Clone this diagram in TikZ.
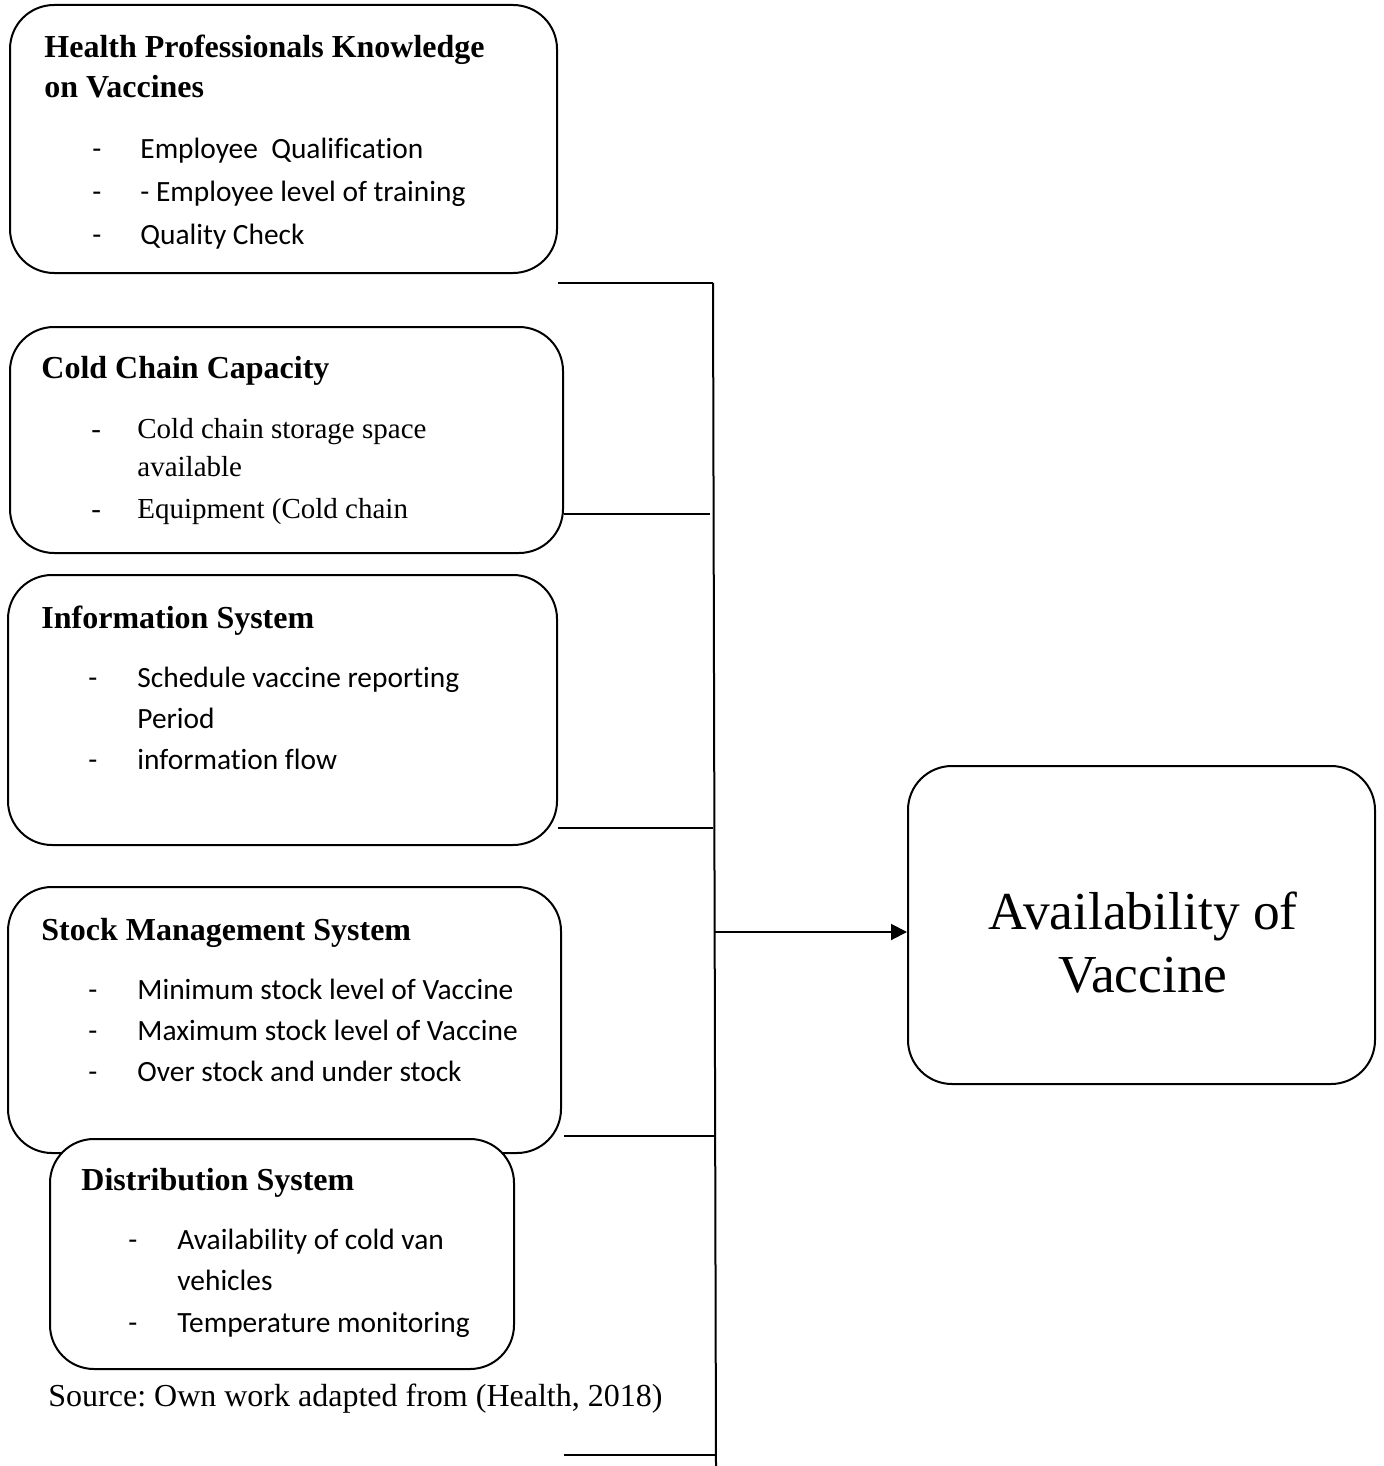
\documentclass[tikz,border=0pt]{standalone}
\usepackage{fontspec}
\setmainfont{Liberation Serif}
\newfontfamily\calfont[Ligatures={NoCommon,NoRare}]{Carlito}
\usetikzlibrary{arrows.meta}
\frenchspacing

\tikzset{
  box/.style={draw, line width=1pt, rounded corners=22pt, fill=white, inner sep=0pt},
  head/.style={font=\fontsize{16}{20}\selectfont\bfseries, anchor=base west, inner sep=0pt},
  item/.style={font=\calfont\fontsize{14.7}{18}\selectfont, anchor=base west, inner sep=0pt},
  titem/.style={font=\fontsize{14.5}{18}\selectfont, anchor=base west, inner sep=0pt},
  wire/.style={line width=1pt}
}

\begin{document}
\begin{tikzpicture}[x=0.5pt, y=-0.5pt]
\useasboundingbox (0,0) rectangle (1384,1466);

% factor boxes
\node[box, minimum width=273.5pt, minimum height=134pt] (hpk) at (283.5,139) {};
\node[head] (hpk-h1) at (44,58) {Health Professionals Knowledge};
\node[head] (hpk-h2) at (44,98) {on Vaccines};
\node[item] (hpk-d1) at (92,159) {-};
\node[item] (hpk-t1) at (140,159) {Employee\ \ Qualification};
\node[item] (hpk-d2) at (92,202) {-};
\node[item] (hpk-t2) at (140,202) {- Employee level of training};
\node[item] (hpk-d3) at (92,245) {-};
\node[item] (hpk-t3) at (140,245) {Quality Check};

\node[box, minimum width=276.5pt, minimum height=113pt] (ccc) at (286.5,440) {};
\node[head] (ccc-h) at (41,378) {Cold Chain Capacity};
\node[titem] (ccc-d1) at (91,438) {-};
\node[titem] (ccc-t1) at (137,438) {Cold chain storage space};
\node[titem] (ccc-t1b) at (137,476) {available};
\node[titem] (ccc-d2) at (91,518) {-};
\node[titem] (ccc-t2) at (137,518) {Equipment (Cold chain};

\node[box, minimum width=274.5pt, minimum height=135pt] (info) at (282.5,710) {};
\node[head] (info-h) at (41,628) {Information System};
\node[item] (info-d1) at (88,687) {-};
\node[item] (info-t1) at (137,687) {Schedule vaccine reporting};
\node[item] (info-t1b) at (137,728) {Period};
\node[item] (info-d2) at (88,769) {-};
\node[item] (info-t2) at (137,769) {information flow};

\node[box, minimum width=276.5pt, minimum height=133pt] (stock) at (284.5,1020) {};
\node[head] (stock-h) at (41,940) {Stock Management System};
\node[item] (stock-d1) at (88,999) {-};
\node[item] (stock-t1) at (137,999) {Minimum stock level of Vaccine};
\node[item] (stock-d2) at (88,1040) {-};
\node[item] (stock-t2) at (137,1040) {Maximum stock level of Vaccine};
\node[item] (stock-d3) at (88,1081) {-};
\node[item] (stock-t3) at (137,1081) {Over stock and under stock};

\node[box, minimum width=232pt, minimum height=115pt] (dist) at (282,1254) {};
\node[head] (dist-h) at (81,1190) {Distribution System};
\node[item] (dist-d1) at (128,1249) {-};
\node[item] (dist-t1) at (177,1249) {Availability of cold van};
\node[item] (dist-t1b) at (177,1290) {vehicles};
\node[item] (dist-d2) at (128,1332) {-};
\node[item] (dist-t2) at (177,1332) {Temperature monitoring};

\node[anchor=base west, inner sep=0pt, font=\fontsize{16}{20}\selectfont] (src) at (48,1406) {Source: Own work adapted from (Health, 2018)};

% outcome
\node[box, minimum width=233.5pt, minimum height=159pt] (avail) at (1141.5,925) {};
\node[anchor=base, inner sep=0pt, font=\fontsize{26.7}{32}\selectfont] (avail-1) at (1143,929) {Availability of};
\node[anchor=base, inner sep=0pt, font=\fontsize{26.7}{32}\selectfont] (avail-2) at (1143,992) {Vaccine};

% bus
\coordinate (j1) at (713,283);
\coordinate (j2) at (710,514);
\coordinate (j3) at (713,828);
\coordinate (j4) at (715,1136);
\coordinate (j5) at (716,1455);
\coordinate (ja) at (715,932);
\coordinate (jend) at (716,1466);

\draw[wire] (j1) -- (jend);
\draw[wire] (j1 -| hpk.east) -- (j1);
\draw[wire] (j2 -| ccc.east) -- (j2);
\draw[wire] (j3 -| info.east) -- (j3);
\draw[wire] (j4 -| ccc.east) -- (j4);
\draw[wire] (j5 -| ccc.east) -- (j5);
\draw[wire, -{Triangle[length=8pt, width=8pt]}] (ja) -- (ja -| avail.west);
\end{tikzpicture}
\end{document}
